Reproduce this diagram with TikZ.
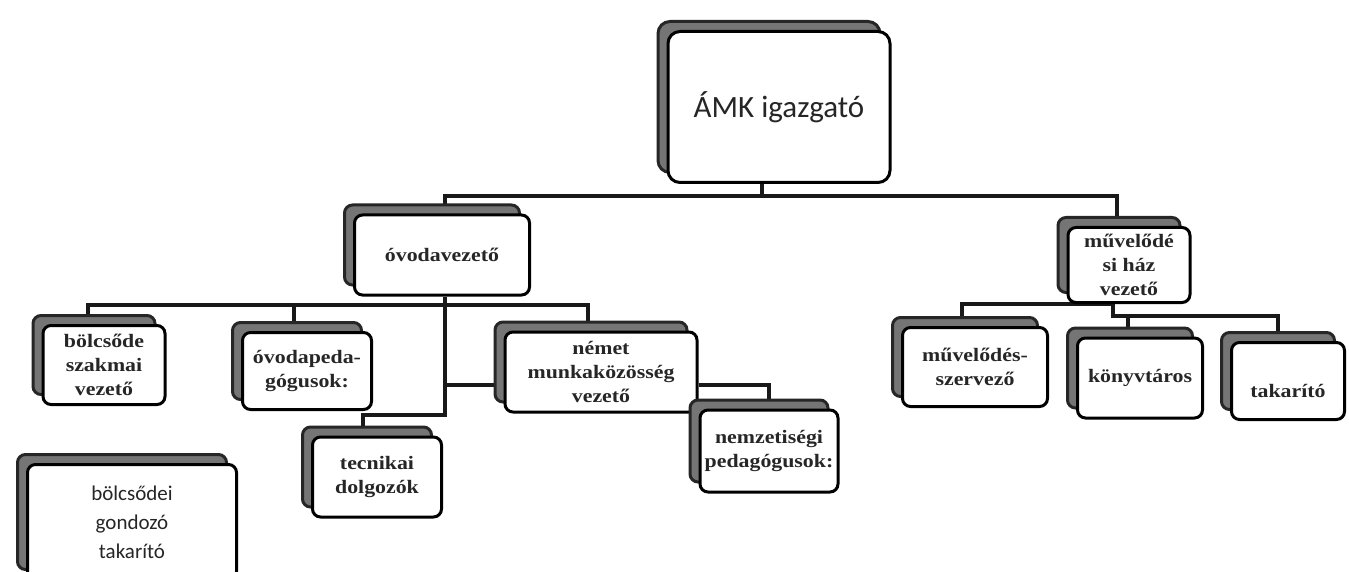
\documentclass[tikz,border=0pt]{standalone}
\usepackage{fontspec}
\newfontfamily\boxfont{Liberation Serif}[FakeStretch=1.15]
\newfontfamily\calfont{Carlito}
\usetikzlibrary{positioning,shadows,backgrounds}

\begin{document}
\begin{tikzpicture}[
        x=1pt, y=-1pt,
        box/.style={
            draw=black,
            line width=3pt,
            rounded corners=8pt,
            fill=white,
            align=center,
            inner sep=0pt,
            text=black!85,
            font=\boxfont\bfseries\fontsize{19}{24}\selectfont,
            general shadow={
                fill=gray!45!black!70,
                draw=black!85,
                line width=3pt,
                shadow xshift=-10pt,
                shadow yshift=10pt
            }
        },
        conn/.style={
            line width=3.2pt,
            draw=black!90
        }
    ]
    \useasboundingbox (0,0) rectangle (1349,572);

    % Felső szint
    \node[box, minimum width=222pt, minimum height=151pt, rounded corners=12pt,
          font=\calfont\fontsize{31}{36}\selectfont] (top) at (779,107) {ÁMK igazgató};

    % Vezetők
    \node[box, minimum width=175pt, minimum height=80pt] (ovoda) at (442,255) {óvodavezető};
    \node[box, minimum width=122pt, minimum height=75pt] (muvhaz) at (1129,265) {
        művelődé\\
        si ház\\
        vezető
    };

    % Óvoda alatt
    \node[box, minimum width=122pt, minimum height=79pt] (bolcsvez) at (104,365) {
        bölcsőde\\
        szakmai\\
        vezető
    };
    \node[box, minimum width=129pt, minimum height=77pt] (ovped) at (307,371) {
        óvodapeda-\\
        gógusok:
    };
    \node[box, minimum width=192pt, minimum height=80pt] (nemet) at (601,372) {
        német\\
        munkaközösség\\
        vezető
    };
    \node[box, minimum width=129pt, minimum height=80pt] (tecn) at (377,477) {
        tecnikai\\
        dolgozók
    };
    \node[box, minimum width=138pt, minimum height=82pt] (nemz) at (769,451) {
        nemzetiségi\\
        pedagógusok:
    };
    \node[box, minimum width=209pt, minimum height=115pt,
          font=\calfont\fontsize{21}{29}\selectfont] (bolcsgond) at (132,522) {
        bölcsődei\\
        gondozó\\
        takarító
    };

    % Művelődési ház alatt
    \node[box, minimum width=145pt, minimum height=79pt] (musz) at (975,367) {
        művelődés-\\
        szervező
    };
    \node[box, minimum width=125pt, minimum height=80pt] (konyv) at (1140,378) {könyvtáros};
    \node[box, minimum width=113pt, minimum height=77pt, text height=34pt] (takar) at (1288,381) {takarító};

    % Vonalak
    \coordinate (b1) at (762,196);
    \coordinate (b1l) at (445,196);
    \coordinate (b1r) at (1117,196);
    \coordinate (b2) at (445,305);
    \coordinate (b2l) at (88,305);
    \coordinate (b2m) at (294,305);
    \coordinate (b2r) at (588,305);
    \coordinate (b3) at (445,415);
    \coordinate (b3l) at (363,415);
    \coordinate (b4) at (445,385);
    \coordinate (c0) at (962,304);
    \coordinate (c1) at (1113,304);
    \coordinate (c2) at (1113,316);
    \coordinate (c3) at (1278,316);
    \coordinate (c4) at (1128,316);

    \begin{pgfonlayer}{background}
        \draw[conn] (top.south -| b1) -- (b1);
        \draw[conn] (ovoda.north -| b1l) -- (b1l) -- (b1r) -- (muvhaz.north -| b1r);
        \draw[conn] (ovoda.south -| b2) -- (b3) -- (b3l) -- (tecn.north -| b3l);
        \draw[conn] (bolcsvez.north -| b2l) -- (b2l) -- (b2r) -- (nemet.north -| b2r);
        \draw[conn] (b2m) -- (ovped.north -| b2m);
        \draw[conn] (b4) -- (nemet.west |- b4);
        \draw[conn] (nemet.east |- b4) -| (nemz.north);
        \draw[conn] (musz.north -| c0) -- (c0) -- (c1) -- (c2) -- (c3) -- (takar.north -| c3);
        \draw[conn] (c4) -- (konyv.north -| c4);
    \end{pgfonlayer}

\end{tikzpicture}
\end{document}
